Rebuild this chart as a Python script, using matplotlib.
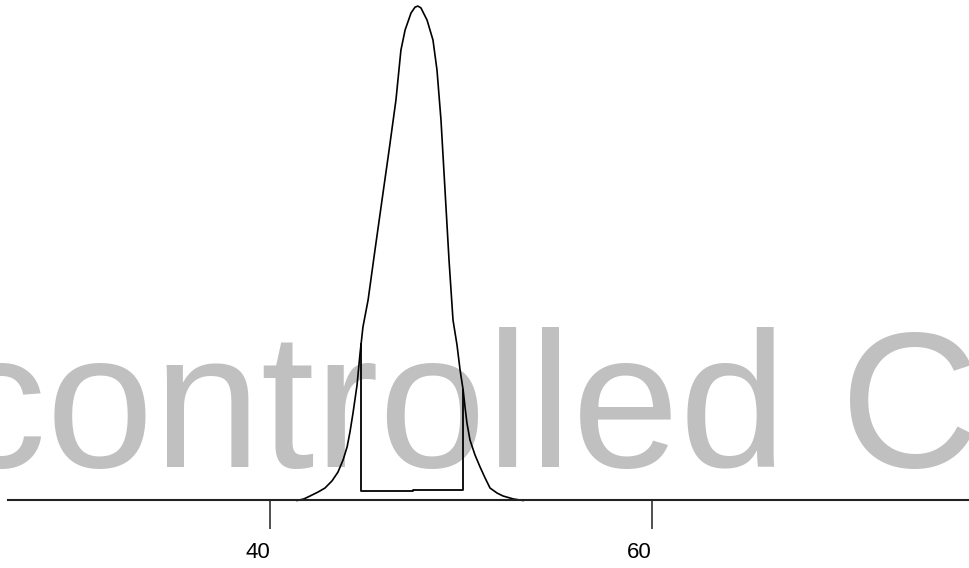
import matplotlib
matplotlib.use("Agg")
import matplotlib.pyplot as plt

# --- data ---
# fitted curve (x value, density)
curve_x = [41.42, 41.78, 42.10, 42.52, 42.88, 43.25, 43.56, 43.83, 44.04, 44.19,
           44.35, 44.56, 44.72, 44.87, 45.14, 45.50, 45.87, 46.24, 46.60, 46.86,
           47.08, 47.39, 47.60, 47.75, 47.91, 48.23, 48.54, 48.75, 48.96, 49.17,
           49.38, 49.59, 49.80, 49.96, 50.12, 50.22, 50.32, 50.48, 50.74, 51.01,
           51.27, 51.53, 51.90, 52.21, 52.74, 53.26]
curve_y = [0.0, 0.0006, 0.0017, 0.0032, 0.0047, 0.0074, 0.0107, 0.0153, 0.0202, 0.0258,
           0.0330, 0.0435, 0.0556, 0.0654, 0.0756, 0.0944, 0.1133, 0.1321, 0.1510, 0.1698,
           0.1774, 0.1838, 0.1860, 0.1864, 0.1857, 0.1811, 0.1736, 0.1623, 0.1434, 0.1171,
           0.0907, 0.0680, 0.0586, 0.0492, 0.0417, 0.0352, 0.0292, 0.0228, 0.0172, 0.0126,
           0.0085, 0.0047, 0.0028, 0.0017, 0.0006, 0.0]

# histogram box
bin_edges = [44.77, 47.47, 50.12]
bin_heights = [0.0034, 0.0041]
edge_tops = [0.0590, 0.0417]   # where the outer edges meet the curve

ticks = [40, 60]
tick_labels = ["40", "60"]
watermark = "Uncontrolled Copy"

fig = plt.figure(figsize=(9.69, 5.68), dpi=100)
ax = fig.add_axes([0, 0, 1, 1])
ax.set_xlim(25.85, 76.63)
ax.set_ylim(-0.02545, 0.18869)

ax.text(-297 / 969, 1 - 467 / 568, watermark, transform=fig.transFigure,
        fontsize=139, family=["Liberation Sans", "DejaVu Sans"], color="#c0c0c0",
        ha="left", va="baseline", zorder=0.5, clip_on=False)

ax.plot(curve_x, curve_y, color="black", lw=1.2, zorder=3)

bx = [bin_edges[0], bin_edges[0], bin_edges[1], bin_edges[1], bin_edges[2], bin_edges[2]]
by = [edge_tops[0], bin_heights[0], bin_heights[0], bin_heights[1], bin_heights[1], edge_tops[1]]
ax.plot(bx, by, color="black", lw=1.3, zorder=3)

for s in ["left", "right", "top"]:
    ax.spines[s].set_visible(False)
ax.spines["bottom"].set_position(("data", 0))
ax.spines["bottom"].set_bounds(26.27, 76.63)
ax.spines["bottom"].set_linewidth(1.5)
ax.spines["bottom"].set_color("#222222")
ax.spines["bottom"].set_zorder(3)

ax.set_yticks([])
ax.set_xticks(ticks)
ax.set_xticklabels(tick_labels, family=["Liberation Sans", "DejaVu Sans"], fontsize=16)
ax.tick_params(axis="x", direction="out", length=21, width=1.1, color="#222222", pad=9)
for lab in ax.get_xticklabels():
    lab.set_horizontalalignment("right")

fig.savefig("out.png", dpi=100)
